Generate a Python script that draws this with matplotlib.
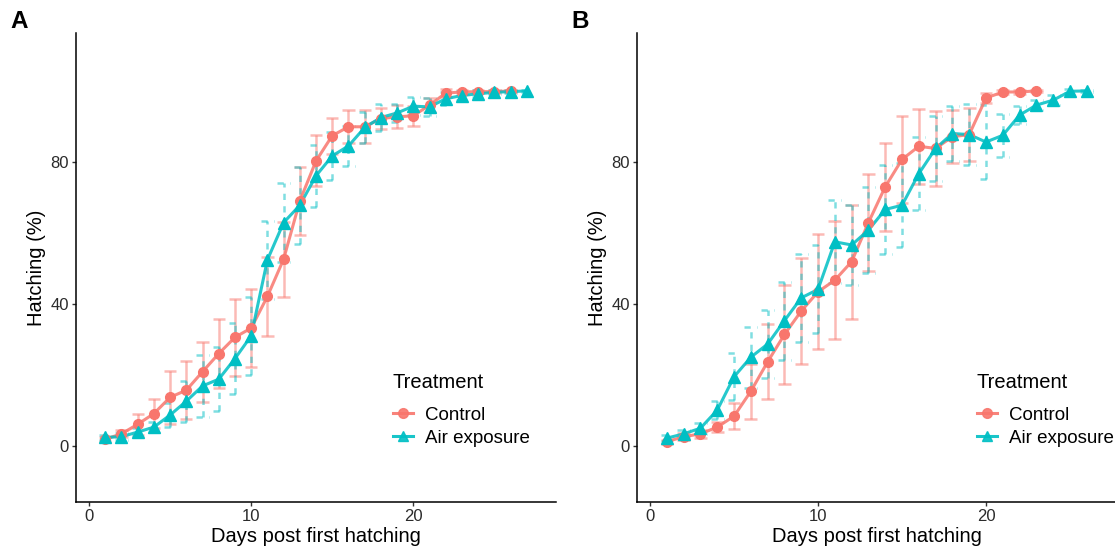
import matplotlib
matplotlib.use("Agg")
from matplotlib import pyplot as plt
from matplotlib.lines import Line2D
import numpy as np

plt.rcParams['font.family'] = ['Liberation Sans', 'DejaVu Sans']

# Panel A
days_a_ctrl = [1, 2, 3, 4, 5, 6, 7, 8, 9, 10, 11, 12, 13, 14, 15, 16, 17, 18, 19, 20, 21, 22, 23, 24, 25, 26]
ctrl_a = [1.9, 3.4, 6.1, 9.1, 13.7, 15.7, 20.9, 26.0, 30.6, 33.2, 42.1, 52.6, 69.0, 80.3, 87.4, 89.9, 89.9, 92.2, 92.7, 93.0, 96.0, 99.4, 99.7, 99.8, 99.8, 100.0]
ctrl_a_se = [0.6, 1.0, 2.9, 4.0, 7.4, 8.1, 8.5, 9.7, 10.8, 11.0, 11.0, 10.6, 9.6, 7.2, 5.1, 4.7, 4.7, 3.0, 3.2, 2.8, 2.0, 1.0, 0.6, 0.5, 0.4, 0.3]
days_a_air = [1, 2, 3, 4, 5, 6, 7, 8, 9, 10, 11, 12, 13, 14, 15, 16, 17, 18, 19, 20, 21, 22, 23, 24, 25, 26, 27]
air_a = [2.4, 2.6, 3.9, 5.3, 8.7, 12.6, 16.9, 18.8, 24.6, 31.0, 52.4, 62.9, 67.8, 76.1, 81.7, 84.5, 89.7, 92.5, 93.8, 95.7, 95.5, 97.8, 98.7, 99.2, 99.6, 99.8, 100.0]
air_a_se = [0.8, 1.0, 1.2, 1.5, 3.3, 5.8, 8.7, 9.1, 10.0, 11.0, 11.0, 11.2, 10.8, 8.7, 6.8, 5.7, 4.3, 3.8, 2.6, 2.6, 2.6, 1.8, 1.2, 1.0, 0.6, 0.4, 0.2]

# Panel B
days_b_ctrl = [1, 2, 3, 4, 5, 6, 7, 8, 9, 10, 11, 12, 13, 14, 15, 16, 17, 18, 19, 20, 21, 22, 23]
ctrl_b = [1.2, 2.6, 3.4, 5.3, 8.4, 15.4, 23.7, 31.4, 38.0, 43.4, 46.7, 51.9, 62.9, 73.0, 80.7, 84.4, 83.8, 87.1, 87.7, 98.0, 99.7, 99.7, 100.0]
ctrl_b_se = [0.6, 1.0, 1.2, 1.4, 3.6, 7.7, 10.6, 14.0, 14.8, 16.2, 16.7, 16.1, 13.7, 12.4, 12.2, 10.5, 10.5, 7.5, 7.5, 1.4, 0.6, 0.6, 0.3]
days_b_air = [1, 2, 3, 4, 5, 6, 7, 8, 9, 10, 11, 12, 13, 14, 15, 16, 17, 18, 19, 20, 21, 22, 23, 24, 25, 26]
air_b = [2.2, 3.4, 5.0, 10.1, 19.5, 25.0, 28.7, 35.3, 41.7, 44.1, 57.5, 56.6, 60.8, 66.6, 67.8, 76.7, 83.8, 88.0, 87.7, 85.6, 87.5, 93.2, 96.0, 97.4, 99.9, 100.0]
air_b_se = [0.8, 1.0, 1.5, 2.6, 6.6, 8.6, 9.7, 11.0, 12.4, 12.4, 11.7, 11.3, 12.2, 12.5, 11.8, 10.2, 9.1, 7.7, 8.5, 10.5, 6.1, 2.5, 1.5, 1.5, 0.5, 0.2]

treatments = ['Control', 'Air exposure']
colors = {'Control': '#F8766D', 'Air exposure': '#00BFC4'}
markers = {'Control': 'o', 'Air exposure': '^'}
err_styles = {'Control': '-', 'Air exposure': (0, (2.5, 2.5))}

fig = plt.figure(figsize=(11.15, 5.48), dpi=100)
ax_a = fig.add_axes([0.0682, 0.0839, 0.4305, 0.8558])
ax_b = fig.add_axes([0.571, 0.0839, 0.4308, 0.8558])


def draw_series(ax, days, vals, se, name):
    days = np.array(days)
    vals = np.array(vals)
    se = np.array(se)
    c = colors[name]
    ls = err_styles[name]
    cap = 0.38
    ax.vlines(days, vals - se, vals + se, colors=c, linestyles=ls, lw=1.8, alpha=0.5, zorder=2)
    ax.hlines(vals - se, days - cap, days + cap, colors=c, linestyles=ls, lw=1.8, alpha=0.5, zorder=2)
    ax.hlines(vals + se, days - cap, days + cap, colors=c, linestyles=ls, lw=1.8, alpha=0.5, zorder=2)
    ax.plot(days, vals, color=c, lw=2.2, alpha=0.85, zorder=3)
    ax.plot(days, vals, ls='none', marker=markers[name], color=c, ms=7 if name == 'Control' else 8, zorder=4)


def style_axes(ax, xmax, letter, legend_anchor):
    ax.set_xlim(-0.8, xmax)
    ax.set_ylim(-15.8, 116.3)
    ax.set_xticks([0, 10, 20])
    ax.set_yticks([0, 40, 80])
    for s in ['top', 'right']:
        ax.spines[s].set_visible(False)
    for s in ['left', 'bottom']:
        ax.spines[s].set_linewidth(1.1)
        ax.spines[s].set_color('black')
    ax.tick_params(axis='both', length=3, width=1.0, color='#333333',
                   labelsize=12, labelcolor='#2b2b2b', pad=2)
    ax.set_xlabel('Days post first hatching', fontsize=14.5, labelpad=2)
    ax.set_ylabel('Hatching (%)', fontsize=14.5, labelpad=3)
    handles = [Line2D([0], [0], color=colors[t], marker=markers[t], lw=2.2, ms=7, alpha=0.9)
               for t in treatments]
    leg = ax.legend(handles, treatments, title='Treatment', loc='upper left',
                    bbox_to_anchor=legend_anchor, frameon=False, fontsize=13.5,
                    title_fontsize=14.5, handlelength=1.1, handletextpad=0.6,
                    labelspacing=0.3, borderaxespad=0, borderpad=0)
    leg._legend_box.align = 'left'
    leg._legend_box.sep = 11
    pos = ax.get_position()
    fig.text(pos.x0 - 0.059, 0.96, letter, fontsize=17.5, fontweight='bold',
             ha='left', va='center')


for name, d, v, s in [('Control', days_a_ctrl, ctrl_a, ctrl_a_se),
                      ('Air exposure', days_a_air, air_a, air_a_se)]:
    draw_series(ax_a, d, v, s, name)
for name, d, v, s in [('Control', days_b_ctrl, ctrl_b, ctrl_b_se),
                      ('Air exposure', days_b_air, air_b, air_b_se)]:
    draw_series(ax_b, d, v, s, name)

style_axes(ax_a, 28.8, 'A', (0.66, 0.276))
style_axes(ax_b, 27.8, 'B', (0.708, 0.276))

plt.savefig('out.png', dpi=100)
